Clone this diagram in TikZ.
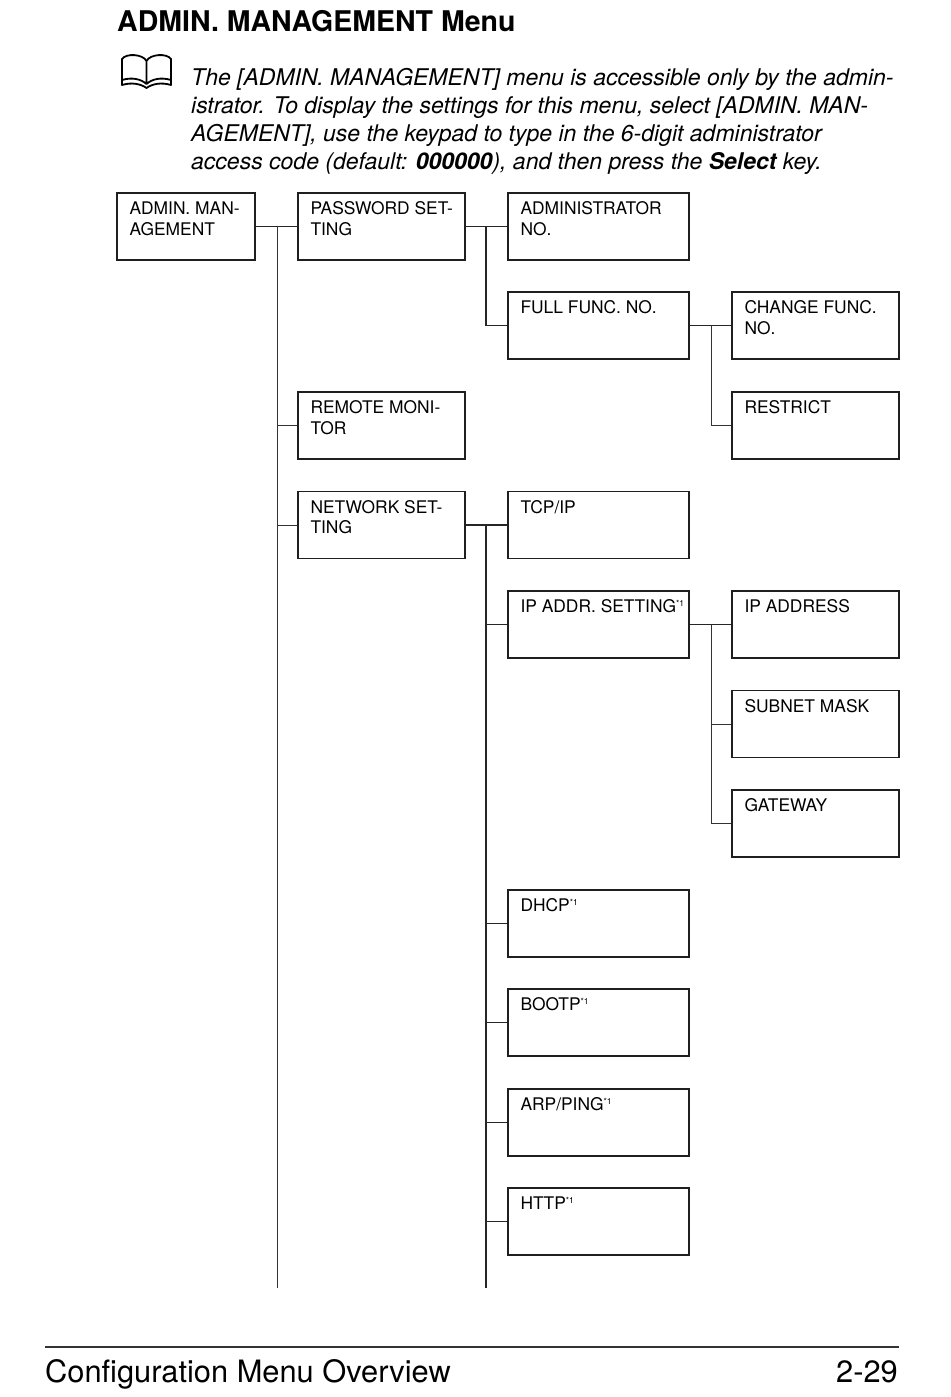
\documentclass[tikz,border=0pt]{standalone}
\usepackage{fontspec}
\setmainfont{TeX Gyre Heros}
\usetikzlibrary{calc}
\newcommand\starone{\raisebox{6.5bp}{\fontsize{8.5bp}{8.5bp}\selectfont *1}}
\newcommand\mkbox[6]{%
  \node[menubox, minimum width=#4] (#1) at (#2,#3) {};
  \node[boxtext] (#1t) at ($(#1.north west)+(13,22.5)$) {\parbox[t]{#5}{\raggedright #6}};
}
\begin{document}
\begin{tikzpicture}[x=1bp,y=-1bp,
  menubox/.style={draw=black!88, line width=1.4bp, minimum height=67bp, inner sep=0pt, fill=white},
  boxtext/.style={inner sep=0pt, anchor=base west, font=\fontsize{17.4bp}{20.5bp}\selectfont},
  conn/.style={draw=black!85, line width=1.1bp},
  trunk/.style={draw=black!80, line width=1bp},
  icon/.style={line width=1.8bp, line join=round, draw=black},
  para/.style={inner sep=0pt, anchor=base west, font=\fontsize{23bp}{28bp}\selectfont\itshape}]
\useasboundingbox (0,0) rectangle (950,1397);
\fill[white] (0,0) rectangle (950,1397);
% title
\node[inner sep=0pt, anchor=base west, font=\fontsize{28.5bp}{32bp}\selectfont\bfseries] (title) at (117,32) {ADMIN. MANAGEMENT Menu};
% book icon
\draw[icon] (146.5,84) -- (146.5,61) .. controls (143,54) and (126,53) .. (122,59) -- (122,80) .. controls (132,77) and (141,79) .. (146.5,84) .. controls (152,79) and (161,77) .. (171,80) -- (171,59) .. controls (167,53) and (150,54) .. (146.5,61);
\draw[icon] (122,80) -- (122,85) .. controls (132,82) and (141,84) .. (146.5,88) .. controls (152,84) and (161,82) .. (171,85) -- (171,80);
% paragraph
\node[para] (p1) at (191,86) {The [ADMIN. MANAGEMENT] menu is accessible only by the admin-};
\node[para] (p2) at (191,114) {istrator. To display the settings for this menu, select [ADMIN. MAN-};
\node[para] (p3) at (191,142) {AGEMENT], use the keypad to type in the 6-digit administrator};
\node[para] (p4) at (191,170) {access code (default: {\bfseries 000000}), and then press the {\bfseries Select} key.};
% boxes
\mkbox{A}{186}{226.5}{138bp}{125bp}{ADMIN. MAN-\\AGEMENT}
\mkbox{B}{381.5}{226.5}{167bp}{150bp}{PASSWORD SET-\\TING}
\mkbox{C}{598.5}{226.5}{181bp}{165bp}{ADMINISTRATOR\\NO.}
\mkbox{D}{598.5}{325.5}{181bp}{165bp}{FULL FUNC. NO.}
\mkbox{E}{815.5}{325.5}{167bp}{150bp}{CHANGE FUNC.\\NO.}
\mkbox{F}{815.5}{425.5}{167bp}{150bp}{RESTRICT}
\mkbox{G}{381.5}{425.5}{167bp}{150bp}{REMOTE MONI-\\TOR}
\mkbox{H}{381.5}{525}{167bp}{150bp}{NETWORK SET-\\TING}
\mkbox{I}{598.5}{525}{181bp}{165bp}{TCP/IP}
\mkbox{J}{598.5}{624.5}{181bp}{172bp}{IP ADDR. SETTING\starone}
\mkbox{K}{815.5}{624.5}{167bp}{150bp}{IP ADDRESS}
\mkbox{L}{815.5}{724}{167bp}{150bp}{SUBNET MASK}
\mkbox{M}{815.5}{823.5}{167bp}{150bp}{GATEWAY}
\mkbox{N}{598.5}{923.5}{181bp}{165bp}{DHCP\starone}
\mkbox{O}{598.5}{1022.5}{181bp}{165bp}{BOOTP\starone}
\mkbox{P}{598.5}{1122.5}{181bp}{165bp}{ARP/PING\starone}
\mkbox{Q}{598.5}{1221.5}{181bp}{165bp}{HTTP\starone}
% bus coordinates
\coordinate (bus1) at (277,1288);
\coordinate (bus2) at (486,1288);
\coordinate (bus3) at (711,0);
% level 1
\draw[conn] (A.east) -- (B.west);
\draw[trunk] (A.east -| bus1) -- (bus1);
\draw[trunk] (G.west) -- (G.west -| bus1);
\draw[trunk] (H.west) -- (H.west -| bus1);
% password
\draw[conn] (B.east) -- (C.west);
\draw[conn, line width=1.5bp] (B.east -| bus2) |- (D.west);
% full func
\draw[conn, line width=1.5bp] (D.east) -- (E.west);
\draw[trunk] (D.east -| bus3) |- (F.west);
% network
\draw[conn, line width=1.5bp] (H.east) -- (I.west);
\draw[conn, line width=1.5bp] (H.east -| bus2) -- (bus2);
\foreach \n in {J,N,O,P,Q} {\draw[conn, line width=1.5bp] (\n.west) -- (\n.west -| bus2);}
% ip addr
\draw[conn, line width=1.5bp] (J.east) -- (K.west);
\draw[trunk] (J.east -| bus3) |- (M.west);
\draw[trunk] (L.west) -- (L.west -| bus3);
% footer
\draw[line width=1.2bp, black!80] (45,1347) -- (899,1347);
\node[inner sep=0pt, anchor=base west, font=\fontsize{30.8bp}{34bp}\selectfont] (foot) at (45,1382) {Configuration Menu Overview};
\node[inner sep=0pt, anchor=base east, font=\fontsize{30.8bp}{34bp}\selectfont] (page) at (898,1382) {2-29};
\end{tikzpicture}
\end{document}
